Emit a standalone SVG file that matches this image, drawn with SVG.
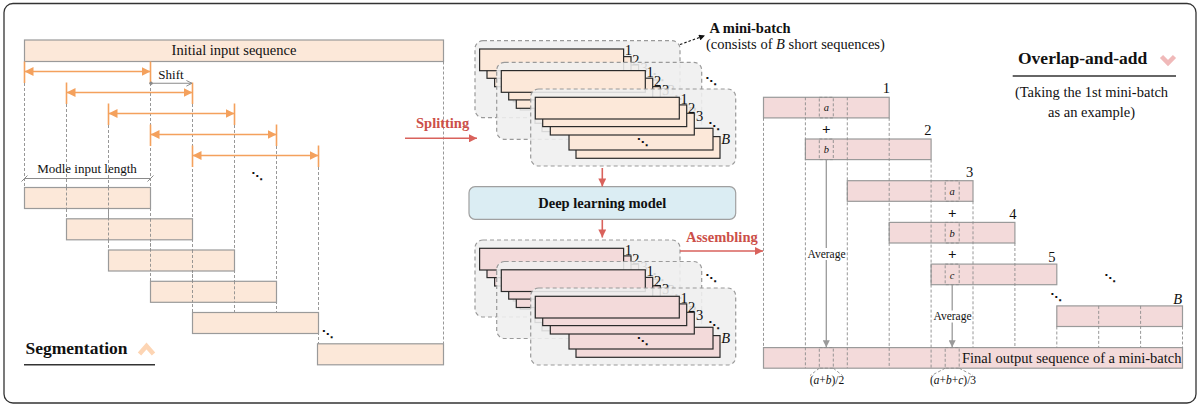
<svg xmlns="http://www.w3.org/2000/svg" width="1200" height="406" viewBox="0 0 1200 406">
<style>
  text { font-family: "Liberation Serif", "Times New Roman", serif; fill: #111; }
  .seg { fill: #fce8d9; stroke: #9a9a9a; stroke-width: 1.2; }
  .out { fill: #f3dada; stroke: #9a9a9a; stroke-width: 1.2; }
  .guide { stroke: #8c8c8c; stroke-width: 0.9; stroke-dasharray: 3 2; fill: none; }
  .span { stroke: #f4a15d; stroke-width: 1.6; marker-start: url(#oHead); marker-end: url(#oHead); }
  .tick { stroke: #f4a15d; stroke-width: 1.6; }
  .bg { fill: #efefef; fill-opacity: 0.88; stroke: #9a9a9a; stroke-width: 1.2; stroke-dasharray: 4 3; }
  .sq { stroke: #2a2a2a; stroke-width: 1.2; }
  .lbl { font-size: 14.5px; }
  .dots { font-family: "DejaVu Sans", sans-serif; font-size: 11px; text-anchor: middle; font-weight: bold; }
  .flow { stroke: #d9625c; stroke-width: 1.6; fill: none; marker-end: url(#rHead); }
  .flowtxt { fill: #cc4f49; font-weight: bold; font-size: 14.5px; }
  .avg { stroke: #9a9a9a; stroke-width: 1.3; marker-end: url(#gHead); }
  .box { fill: none; stroke: #8c8c8c; stroke-width: 0.9; stroke-dasharray: 3 2; }
  .var { font-style: italic; font-size: 10.5px; text-anchor: middle; }
  .plus { font-weight: bold; font-size: 15px; text-anchor: middle; }
  .num { font-size: 14.5px; text-anchor: end; }
  .small { font-size: 11.5px; text-anchor: middle; }
  .title { font-weight: bold; font-size: 17.5px; }
</style>
<defs>
  <marker id="oHead" viewBox="0 0 10 10" refX="10" refY="5" markerWidth="9" markerHeight="9" markerUnits="userSpaceOnUse" orient="auto-start-reverse">
    <path d="M0,0 L10,5 L0,10 z" fill="#f4a15d"/>
  </marker>
  <marker id="rHead" viewBox="0 0 10 10" refX="10" refY="5" markerWidth="9" markerHeight="8" markerUnits="userSpaceOnUse" orient="auto">
    <path d="M0,0 L10,5 L0,10 z" fill="#d9625c"/>
  </marker>
  <marker id="gHead" viewBox="0 0 10 10" refX="10" refY="5" markerWidth="8" markerHeight="7" markerUnits="userSpaceOnUse" orient="auto">
    <path d="M0,0 L10,5 L0,10 z" fill="#9a9a9a"/>
  </marker>
  <marker id="kHead" viewBox="0 0 10 10" refX="10" refY="5" markerWidth="7" markerHeight="6" markerUnits="userSpaceOnUse" orient="auto">
    <path d="M0,0 L10,5 L0,10 z" fill="#111"/>
  </marker>
  <marker id="openHead" viewBox="0 0 10 10" refX="9" refY="5" markerWidth="7" markerHeight="7" markerUnits="userSpaceOnUse" orient="auto">
    <path d="M1,1 L9,5 L1,9" fill="none" stroke="#8a8a8a" stroke-width="1.4"/>
  </marker>
  <!-- one mini-batch: B short sequences stacked; bar fill comes from the <use> -->
  <g id="batch">
    <rect class="bg" x="0" y="0" width="205" height="77" rx="8"/>
    <rect class="sq" x="45.3" y="47.6" width="144" height="21.7"/>
    <rect class="sq" x="38.3" y="39.3" width="144" height="21.7"/>
    <rect class="sq" x="19.6" y="24.3" width="144" height="21.7"/>
    <rect class="sq" x="12" y="15.9" width="144" height="21.7"/>
    <rect class="sq" x="4.6" y="8.3" width="144" height="21.7"/>
    <text class="lbl" x="149.8" y="14.5" fill="#111">1</text>
    <text class="lbl" x="157.2" y="24" fill="#111">2</text>
    <text class="lbl" x="165.4" y="32.3" fill="#111">3</text>
    <text class="dots" x="183.3" y="40.5" fill="#111">⋱</text>
    <text class="lbl" x="190.5" y="54.5" font-style="italic" fill="#111">B</text>
    <text class="dots" x="111.8" y="56.6" fill="#111">⋱</text>
  </g>
</defs>

<rect x="4" y="3.5" width="1192" height="399.5" rx="9" fill="#fff" stroke="#333" stroke-width="1.3"/>

<!-- ============ Segmentation ============ -->
<g id="segmentation">
  <rect class="seg" x="24.5" y="40" width="419" height="21.5"/>
  <text x="234" y="55" font-size="14.5" text-anchor="middle">Initial input sequence</text>

  <!-- guides -->
  <line class="guide" x1="24.5" y1="83" x2="24.5" y2="187.5"/>
  <line class="guide" x1="66.5" y1="104" x2="66.5" y2="218.8"/>
  <line class="guide" x1="108.5" y1="125" x2="108.5" y2="250"/>
  <line class="guide" x1="150.5" y1="83" x2="150.5" y2="281.3"/>
  <line class="guide" x1="192.5" y1="104" x2="192.5" y2="312.5"/>
  <line class="guide" x1="234.5" y1="125" x2="234.5" y2="312.5"/>
  <line class="guide" x1="276.5" y1="146" x2="276.5" y2="312.5"/>
  <line class="guide" x1="318.5" y1="167" x2="318.5" y2="343.8"/>
  <line class="guide" x1="443.5" y1="61.5" x2="443.5" y2="343.8"/>

  <!-- windows -->
  <line class="tick" x1="24.5" y1="61.5" x2="24.5" y2="83"/>
  <line class="tick" x1="150.5" y1="61.5" x2="150.5" y2="83"/>
  <line class="span" x1="24.5" y1="71.5" x2="150.5" y2="71.5"/>
  <line class="tick" x1="66.5" y1="82.5" x2="66.5" y2="104"/>
  <line class="tick" x1="192.5" y1="82.5" x2="192.5" y2="104"/>
  <line class="span" x1="66.5" y1="92.5" x2="192.5" y2="92.5"/>
  <line class="tick" x1="108.5" y1="103.5" x2="108.5" y2="125"/>
  <line class="tick" x1="234.5" y1="103.5" x2="234.5" y2="125"/>
  <line class="span" x1="108.5" y1="113.5" x2="234.5" y2="113.5"/>
  <line class="tick" x1="150.5" y1="124.5" x2="150.5" y2="146"/>
  <line class="tick" x1="276.5" y1="124.5" x2="276.5" y2="146"/>
  <line class="span" x1="150.5" y1="134.5" x2="276.5" y2="134.5"/>
  <line class="tick" x1="192.5" y1="145.5" x2="192.5" y2="167"/>
  <line class="tick" x1="318.5" y1="145.5" x2="318.5" y2="167"/>
  <line class="span" x1="192.5" y1="155.5" x2="318.5" y2="155.5"/>

  <!-- shift -->
  <circle cx="151" cy="83.3" r="1.7" fill="#8a8a8a"/>
  <line x1="151" y1="83.3" x2="192" y2="83.3" stroke="#8a8a8a" stroke-width="1.1" marker-end="url(#openHead)"/>
  <text x="171" y="79" font-size="13" text-anchor="middle">Shift</text>

  <text class="dots" x="257" y="180">⋱</text>

  <!-- model input length -->
  <text x="87" y="172.5" font-size="13" text-anchor="middle">Modle input length</text>
  <line x1="24.5" y1="178.5" x2="150.5" y2="178.5" stroke="#8a8a8a" stroke-width="1"/>
  <line x1="21.5" y1="181.5" x2="27.5" y2="175.5" stroke="#8a8a8a" stroke-width="1"/>
  <line x1="147.5" y1="181.5" x2="153.5" y2="175.5" stroke="#8a8a8a" stroke-width="1"/>

  <!-- segments -->
  <rect class="seg" x="24.5" y="187.5" width="126" height="21"/>
  <rect class="seg" x="66.5" y="218.8" width="126" height="21"/>
  <rect class="seg" x="108.5" y="250" width="126" height="21"/>
  <rect class="seg" x="150.5" y="281.3" width="126" height="21"/>
  <rect class="seg" x="192.5" y="312.5" width="126" height="21"/>
  <rect class="seg" x="317.5" y="343.8" width="126" height="21"/>
  <!-- guides seen through the segments -->
  <line class="guide" x1="66.5" y1="187.5" x2="66.5" y2="208.5"/>
  <line class="guide" x1="108.5" y1="187.5" x2="108.5" y2="239.8"/>
  <line class="guide" x1="150.5" y1="218.8" x2="150.5" y2="271"/>
  <line class="guide" x1="192.5" y1="250" x2="192.5" y2="302.3"/>
  <line class="guide" x1="234.5" y1="281.3" x2="234.5" y2="302.3"/>
  <text class="dots" x="327.5" y="338">⋱</text>

  <text class="title" x="25.5" y="354">Segmentation</text>
  <line x1="24" y1="364.7" x2="155" y2="364.7" stroke="#333" stroke-width="1.5"/>
  <polyline points="139.5,354 146.5,346 153.5,354" fill="none" stroke="#fdd5b4" stroke-width="4.5" stroke-linejoin="miter"/>
</g>

<!-- ============ Mini-batches before the model ============ -->
<g id="mini-batches-in" fill="#fce8d9">
  <use href="#batch" x="475" y="40.7"/>
  <use href="#batch" x="496.7" y="62.3"/>
  <use href="#batch" x="530.7" y="89"/>
  <text class="dots" x="711" y="84.5" fill="#111">⋱</text>
  <text x="709.5" y="33" font-size="14.5" font-weight="bold" fill="#111">A mini-batch</text>
  <text x="706" y="48.5" font-size="14.5" fill="#111">(consists of <tspan font-style="italic">B</tspan> short sequences)</text>
</g>

<!-- ============ Model ============ -->
<g id="model">
  <rect x="469" y="186.7" width="266.7" height="32.6" rx="6" fill="#dbedf3" stroke="#a0a0a0" stroke-width="1.2"/>
  <text x="602.3" y="207.5" font-size="14.5" font-weight="bold" text-anchor="middle">Deep learning model</text>
</g>

<!-- ============ Mini-batches after the model ============ -->
<g id="mini-batches-out" fill="#f3dada">
  <use href="#batch" x="475" y="240"/>
  <use href="#batch" x="496.7" y="261.5"/>
  <use href="#batch" x="530.7" y="288"/>
  <text class="dots" x="711" y="282" fill="#111">⋱</text>
</g>

<!-- ============ Connectors ============ -->
<g id="connectors">
  <text class="flowtxt" x="416" y="128">Splitting</text>
  <line class="flow" x1="405" y1="138.3" x2="477" y2="138.3"/>
  <line class="flow" x1="602.3" y1="168" x2="602.3" y2="186.5"/>
  <line class="flow" x1="602.3" y1="220" x2="602.3" y2="237.5"/>
  <text class="flowtxt" x="686" y="241.7">Assembling</text>
  <line class="flow" x1="680" y1="251" x2="763" y2="251"/>
  <line x1="680" y1="44.5" x2="705" y2="35.5" stroke="#111" stroke-width="1.1" stroke-dasharray="2.5 2" marker-end="url(#kHead)"/>
</g>

<!-- ============ Overlap-and-add ============ -->
<g id="overlap-add">
  <text class="title" x="1018" y="64">Overlap-and-add</text>
  <polyline points="1161.5,56.5 1168,63 1174.5,56.5" fill="none" stroke="#f0b9b9" stroke-width="4.5" stroke-linejoin="miter"/>
  <line x1="1012.7" y1="76" x2="1176" y2="76" stroke="#333" stroke-width="1.5"/>
  <text x="1091.5" y="96.7" font-size="14.5" text-anchor="middle">(Taking the 1st mini-batch</text>
  <text x="1091.5" y="116.7" font-size="14.5" text-anchor="middle">as an example)</text>

  <!-- output sequences 1..5 and B -->
  <rect class="out" x="763.5" y="97.3" width="125.7" height="20.6"/>
  <rect class="out" x="805.4" y="139" width="125.7" height="20.6"/>
  <rect class="out" x="847.3" y="180.7" width="125.7" height="20.6"/>
  <rect class="out" x="889.2" y="222.4" width="125.7" height="20.6"/>
  <rect class="out" x="931.1" y="264.1" width="125.7" height="20.6"/>
  <rect class="out" x="1056.8" y="305.9" width="125.7" height="20.6"/>
  <rect class="out" x="763.5" y="347.6" width="419" height="20.6"/>

  <!-- column guides -->
  <line class="guide" x1="763.5" y1="117.9" x2="763.5" y2="347.6"/>
  <line class="guide" x1="805.4" y1="97.3" x2="805.4" y2="368.2"/>
  <line class="guide" x1="847.3" y1="97.3" x2="847.3" y2="368.2"/>
  <line class="guide" x1="889.2" y1="117.9" x2="889.2" y2="368.2"/>
  <line class="guide" x1="931.1" y1="159.6" x2="931.1" y2="368.2"/>
  <line class="guide" x1="973" y1="201.3" x2="973" y2="347.6"/>
  <line class="guide" x1="1014.9" y1="243" x2="1014.9" y2="347.6"/>
  <line class="guide" x1="1056.8" y1="326.5" x2="1056.8" y2="347.6"/>
  <line class="guide" x1="1098.7" y1="305.9" x2="1098.7" y2="347.6"/>
  <line class="guide" x1="1140.6" y1="305.9" x2="1140.6" y2="347.6"/>
  <line class="guide" x1="1182.5" y1="326.5" x2="1182.5" y2="347.6"/>

  <!-- overlapping samples -->
  <rect class="box" x="819.3" y="97.3" width="14" height="20.6"/>
  <rect class="box" x="819.3" y="139" width="14" height="20.6"/>
  <rect class="box" x="819.3" y="347.6" width="14" height="20.6"/>
  <rect class="box" x="945.2" y="180.7" width="14" height="20.6"/>
  <rect class="box" x="945.2" y="222.4" width="14" height="20.6"/>
  <rect class="box" x="945.2" y="264.1" width="14" height="20.6"/>
  <rect class="box" x="945.2" y="347.6" width="14" height="20.6"/>
  <text class="var" x="826.3" y="111">a</text>
  <text class="var" x="826.3" y="152.7">b</text>
  <text class="var" x="952.2" y="195">a</text>
  <text class="var" x="952.2" y="236.5">b</text>
  <text class="var" x="952.2" y="278.5">c</text>
  <text class="plus" x="826.3" y="134">+</text>
  <text class="plus" x="952.2" y="217.5">+</text>
  <text class="plus" x="952.2" y="258.5">+</text>

  <text class="num" x="890" y="93.3">1</text>
  <text class="num" x="931.5" y="135">2</text>
  <text class="num" x="973.3" y="177">3</text>
  <text class="num" x="1016.5" y="219">4</text>
  <text class="num" x="1055.5" y="262">5</text>
  <text class="num" x="1182" y="304" font-style="italic">B</text>
  <text class="dots" x="1110" y="282">⋱</text>
  <text class="dots" x="1056" y="301">⋱</text>

  <!-- averaging -->
  <line class="avg" x1="826.3" y1="159.6" x2="826.3" y2="347.3"/>
  <line class="avg" x1="952.2" y1="284.7" x2="952.2" y2="347.3"/>
  <rect x="807" y="248" width="39" height="12" fill="#fff"/>
  <rect x="933" y="310.5" width="39" height="12" fill="#fff"/>
  <text class="small" x="826.5" y="257.5">Average</text>
  <text class="small" x="952.5" y="320">Average</text>

  <text x="1181.5" y="362.7" font-size="14.5" text-anchor="end">Final output sequence of a mini-batch</text>

  <line class="guide" x1="819.3" y1="368.2" x2="810" y2="375.5"/>
  <line class="guide" x1="833.3" y1="368.2" x2="842.5" y2="375.5"/>
  <line class="guide" x1="945.2" y1="368.2" x2="931.5" y2="375.5"/>
  <line class="guide" x1="959.2" y1="368.2" x2="973" y2="375.5"/>
  <text class="small" x="827" y="383.5">(<tspan font-style="italic">a</tspan>+<tspan font-style="italic">b</tspan>)/2</text>
  <text class="small" x="953" y="383.5">(<tspan font-style="italic">a</tspan>+<tspan font-style="italic">b</tspan>+<tspan font-style="italic">c</tspan>)/3</text>
</g>
</svg>
